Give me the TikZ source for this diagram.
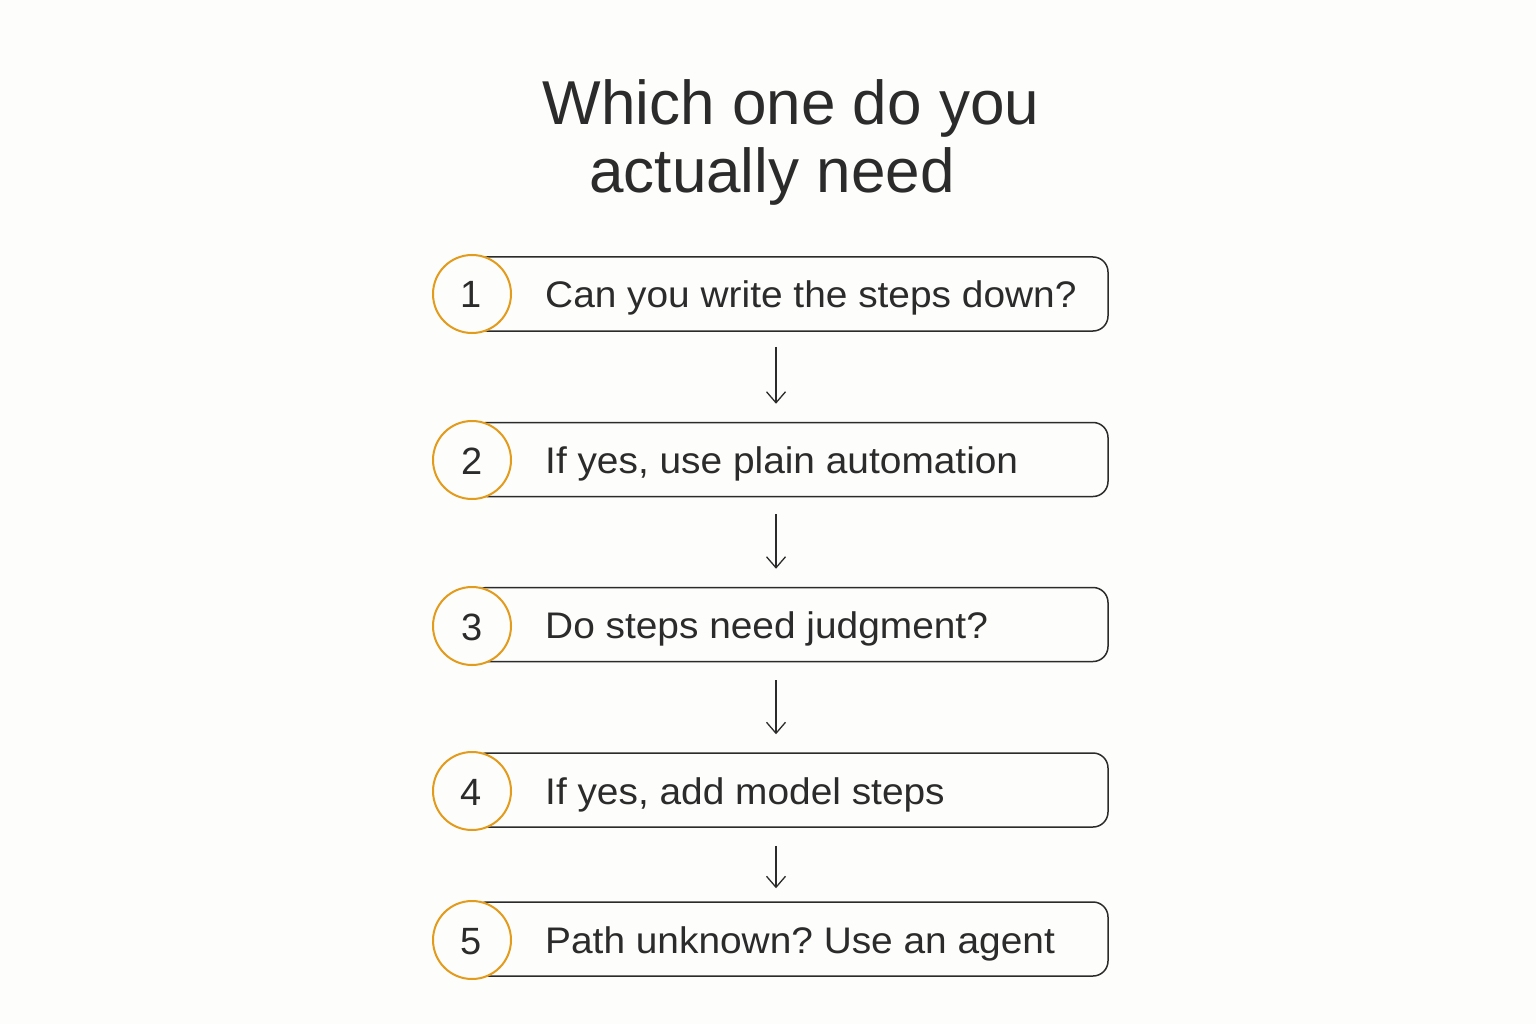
\documentclass[tikz,border=0pt]{standalone}
\usepackage{fontspec}
\setmainfont{Liberation Sans}
\newfontfamily\stepfont[FakeStretch=1.05]{Liberation Sans}
\usetikzlibrary{arrows.meta}
\definecolor{bg}{HTML}{FDFDFB}
\definecolor{ink}{HTML}{2B2B2B}
\definecolor{ora}{HTML}{E39B1B}
\tikzset{
  stepbox/.style={draw=ink, line width=1.5pt, rounded corners=15pt, minimum width=636pt, minimum height=74pt, inner sep=0pt},
  numcirc/.style={circle, draw=ora, line width=2pt, fill=bg, minimum size=78pt, inner sep=0pt},
  numtext/.style={anchor=base, inner sep=0pt, text=ink, font=\fontsize{38}{44}\selectfont},
  steptext/.style={anchor=base west, inner sep=0pt, text=ink, font=\stepfont\fontsize{37}{44}\selectfont},
  titletext/.style={anchor=base, inner sep=0pt, text=ink, font=\fontsize{62}{70}\selectfont},
  flow/.style={draw=ink, line width=1.3pt, -{Straight Barb[length=11pt,width=19pt,line width=1.3pt]}}
}
\begin{document}
\frenchspacing
\begin{tikzpicture}[x=1pt,y=-1pt]
\fill[bg] (0,0) rectangle (1536,1024);
\useasboundingbox (0,0) rectangle (1536,1024);
\node[titletext] (t1) at (791,125) {Which one do you};
\node[titletext] (t2) at (772,193) {actually need};
\node[stepbox] (b1) at (790,294) {};
\node[stepbox] (b2) at (790,459.5) {};
\node[stepbox] (b3) at (790,624.5) {};
\node[stepbox] (b4) at (790,790) {};
\node[stepbox] (b5) at (790,939) {};
\node[numcirc] (c1) at (472,294) {};
\node[numcirc] (c2) at (472,460) {};
\node[numcirc] (c3) at (472,626) {};
\node[numcirc] (c4) at (472,791) {};
\node[numcirc] (c5) at (472,940) {};
\node[numtext] (n1) at (471,308) {1};
\node[numtext] (n2) at (472,474) {2};
\node[numtext] (n3) at (472,640) {3};
\node[numtext] (n4) at (471,805) {4};
\node[numtext] (n5) at (471,954) {5};
\node[steptext] (s1) at (545,308) {Can you write the steps down?};
\node[steptext] (s2) at (545,473.5) {If yes, use plain automation};
\node[steptext] (s3) at (545,638.5) {Do steps need judgment?};
\node[steptext] (s4) at (545,804) {If yes, add model steps};
\node[steptext] (s5) at (545,953) {Path unknown? Use an agent};
\draw[flow, shorten <=15pt, shorten >=18pt] ([xshift=-14pt]b1.south) -- ([xshift=-14pt]b2.north);
\draw[flow, shorten <=17pt, shorten >=18pt] ([xshift=-14pt]b2.south) -- ([xshift=-14pt]b3.north);
\draw[flow, shorten <=18pt, shorten >=18pt] ([xshift=-14pt]b3.south) -- ([xshift=-14pt]b4.north);
\draw[flow, shorten <=18pt, shorten >=13pt] ([xshift=-14pt]b4.south) -- ([xshift=-14pt]b5.north);
\end{tikzpicture}
\end{document}
